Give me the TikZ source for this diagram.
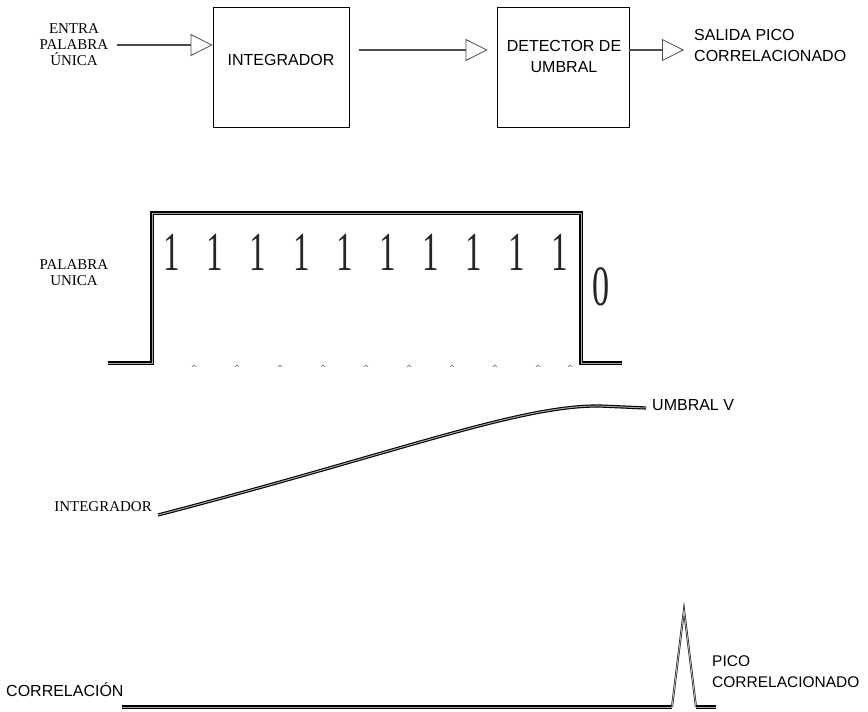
\documentclass[tikz,border=0pt]{standalone}
\usepackage{fontspec}
\setmainfont{Liberation Serif}
\setsansfont{Liberation Sans}
\newfontfamily\bitfont[FakeStretch=0.6]{Liberation Serif}
\usetikzlibrary{arrows.meta}
\tikzset{
  block/.style={draw, line width=0.8pt, minimum width=136pt, minimum height=120pt, inner sep=0pt},
  flow/.style={line width=2.4pt, black!70, -{Triangle[open, length=22pt, width=22pt, line width=0.8pt]}},
  wave/.style={line width=1.1pt, double=black!35, double distance=1pt},
  spike/.style={line width=0.5pt, double=black!30, double distance=1pt},
  sanslbl/.style={font=\fontsize{16}{21}\sffamily\selectfont, align=center, inner sep=2pt},
  seriflbl/.style={font=\fontsize{15}{16}\rmfamily\selectfont, align=center, inner sep=2pt},
  bit/.style={font=\fontsize{55}{55}\bitfont\selectfont, black!85, inner sep=0pt}
}

\begin{document}
\begin{tikzpicture}[x=1pt, y=-1pt]

  \useasboundingbox (0, 0) rectangle (868, 712);

  % block diagram
  \node[seriflbl] (entra) at (74, 45) {ENTRA\\PALABRA\\ÚNICA};
  \node[block] (integ) at (281, 67) {};
  \node[sanslbl] (integlbl) at (281, 60) {INTEGRADOR};
  \node[block, minimum width=132pt] (detec) at (563, 67) {};
  \node[sanslbl] (deteclbl) at (564, 56) {DETECTOR DE\\UMBRAL};
  \node[sanslbl, anchor=west, align=left] (salida) at (692, 45) {SALIDA PICO\\CORRELACIONADO};

  \coordinate (row) at (0, 50);
  \draw[flow, shorten <=6pt] (entra.east) -- (entra.east -| integ.west);
  \draw[flow, shorten <=10pt, shorten >=9pt] (integ.east |- row) -- (detec.west |- row);
  \draw[flow, shorten >=8pt] (detec.east |- row) -- (salida.west |- row);

  % palabra unica
  \node[seriflbl] (palabra) at (74, 273) {PALABRA\\UNICA};
  \draw[wave] (108, 363) -- (152, 363) -- (152, 213) -- (581, 213) -- (581, 363) -- (622, 363);
  \foreach \i in {0,...,9}
    \node[bit] (b\i) at (172 + 43.1 * \i, 252) {1};
  \node[bit, font=\fontsize{57}{57}\bitfont\selectfont] (b10) at (601, 287) {0};
  \foreach \x in {194, 237, 280, 323, 366, 409, 452, 495, 538, 570}
    \draw[black!60, line width=0.6pt] (\x - 2, 367) -- (\x, 365) -- (\x + 2, 367);

  % integrador
  \node[seriflbl, anchor=east] (intlbl) at (154, 507) {INTEGRADOR};
  \draw[wave] (158, 515) .. controls (400, 452) and (520, 405) .. (600, 406) -- (646, 408);
  \node[sanslbl, anchor=west] (umbral) at (650, 405) {UMBRAL V};

  % correlacion
  \node[sanslbl, anchor=west] (corr) at (4, 690) {CORRELACIÓN};
  \draw[wave] (122, 707) -- (672, 707);
  \draw[spike] (672, 707) -- (684, 610) -- (696, 707);
  \draw[wave] (696, 707) -- (716, 707);
  \node[sanslbl, font=\fontsize{15.5}{21}\sffamily\selectfont, anchor=west, align=left] (pico) at (710, 672) {PICO\\CORRELACIONADO};

\end{tikzpicture}
\end{document}
